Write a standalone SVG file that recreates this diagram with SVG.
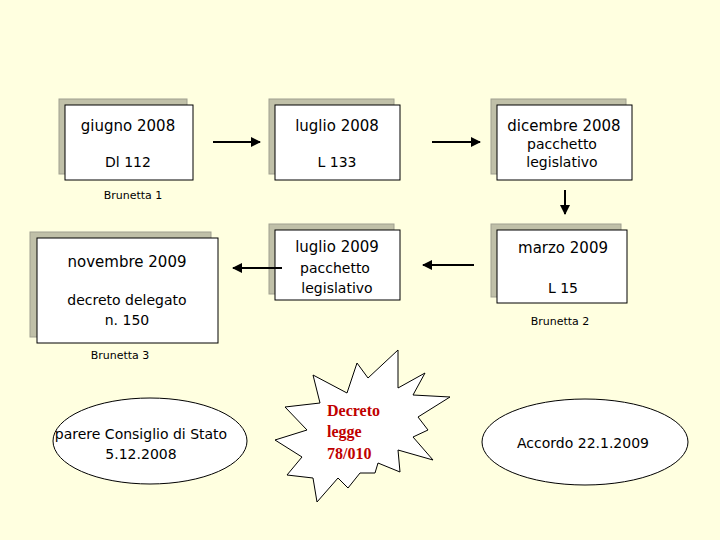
<svg xmlns="http://www.w3.org/2000/svg" width="720" height="540" viewBox="0 0 720 540">
<style>
.sh{fill:#c0c0a8;stroke:#a0a090;stroke-width:1}
.bx{fill:#fff;stroke:#000;stroke-width:1}
text{font-family:"DejaVu Sans","Liberation Sans",Arial,sans-serif;fill:#000;text-anchor:middle}
.t{font-size:15px}.s{font-size:14px}.xs{font-size:11px}
text.d{font-family:"Liberation Serif","Times New Roman",serif;font-weight:bold;font-size:16px;fill:#c00000;text-anchor:start}
.ar{stroke:#000;stroke-width:2;fill:none;marker-end:url(#a)}
</style>
<defs><marker id="a" viewBox="0 0 10 10" refX="9" refY="5" markerWidth="5" markerHeight="5" orient="auto"><path d="M0,0L10,5L0,10z" fill="#000"/></marker></defs>
<rect width="720" height="540" fill="#ffffe0"/>
<g id="n1"><rect class="sh" x="59" y="99" width="128" height="75"/><rect class="bx" x="65" y="105" width="128" height="75"/><text class="t" x="128" y="131">giugno 2008</text><text class="s" x="128" y="167">Dl 112</text></g>
<text class="xs" x="133" y="199">Brunetta 1</text>
<g id="n2"><rect class="sh" x="269" y="99" width="125" height="75"/><rect class="bx" x="275" y="105" width="125" height="75"/><text class="t" x="337" y="131">luglio 2008</text><text class="s" x="337" y="167">L 133</text></g>
<g id="n3"><rect class="sh" x="491" y="99" width="135" height="75"/><rect class="bx" x="497" y="105" width="135" height="75"/><text class="t" x="564" y="131">dicembre 2008</text><text class="s" x="562" y="149">pacchetto</text><text class="s" x="562" y="167">legislativo</text></g>
<g id="n4"><rect class="sh" x="30" y="232" width="181" height="105"/><rect class="bx" x="37" y="238" width="181" height="105"/><text class="t" x="127" y="267">novembre 2009</text><text class="s" x="127" y="305">decreto delegato</text><text class="s" x="127" y="325">n. 150</text></g>
<text class="xs" x="120" y="359">Brunetta 3</text>
<g id="n5"><rect class="sh" x="269" y="224" width="125" height="70"/><rect class="bx" x="275" y="230" width="125" height="70"/><text class="t" x="337" y="252">luglio 2009</text><text class="s" x="335" y="273">pacchetto</text><text class="s" x="337" y="293">legislativo</text></g>
<g id="n6"><rect class="sh" x="491" y="224" width="130" height="73"/><rect class="bx" x="497" y="230" width="130" height="73"/><text class="t" x="563" y="253">marzo 2009</text><text class="s" x="563" y="293">L 15</text></g>
<text class="xs" x="560" y="325">Brunetta 2</text>
<g id="n7"><ellipse cx="150" cy="441" rx="97" ry="43" class="bx"/><text class="s" x="141" y="439">parere Consiglio di Stato</text><text class="s" x="141" y="459">5.12.2008</text></g>
<g id="n8"><polygon class="bx" points="313,375 347,393 357,363 368,378 398,350 398,388 425,373 413,395 450,397 418,417 428,430 413,437 433,460 398,450 400,472 378,463 375,473 360,473 348,488 338,478 317,502 313,478 287,475 302,457 275,440 307,430 285,407 320,403"/>
<text class="d" x="327" y="416">Decreto</text><text class="d" x="327" y="437">legge</text><text class="d" x="327" y="459">78/010</text></g>
<g id="n9"><ellipse cx="585" cy="442" rx="103" ry="43" class="bx"/><text class="s" x="583" y="448">Accordo 22.1.2009</text></g>
<g id="connectors">
<line class="ar" x1="213" y1="142" x2="260" y2="142"/>
<line class="ar" x1="432" y1="142" x2="480" y2="142"/>
<line class="ar" x1="565" y1="190" x2="565" y2="214"/>
<line class="ar" x1="474" y1="265" x2="423" y2="265"/>
<line class="ar" x1="282" y1="268" x2="233" y2="268"/>
</g>
</svg>
